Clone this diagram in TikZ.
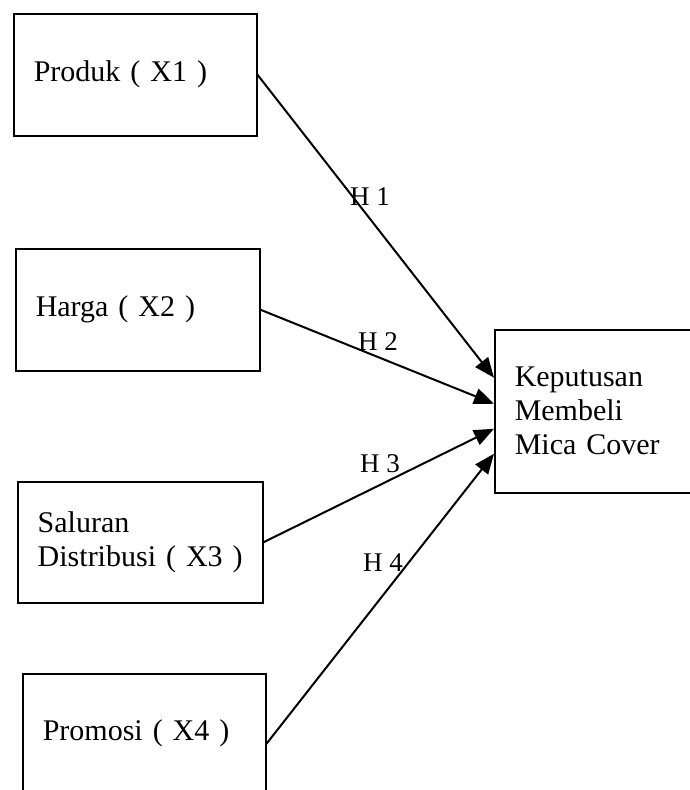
\documentclass[tikz,border=0pt]{standalone}
\usepackage{fontspec}
\setmainfont{Liberation Serif}
\usetikzlibrary{arrows.meta}

\begin{document}
\begin{tikzpicture}[x=1pt,y=-1pt,
    every node/.style={font=\fontsize{30}{34}\selectfont},
    varbox/.style={rectangle,draw,line width=1.5pt,anchor=north west,
      align=left,inner xsep=20pt,minimum height=122pt},
    hyp/.style={font=\fontsize{27}{30}\selectfont,inner sep=0pt},
    link/.style={line width=2pt,-{Triangle[length=20pt,width=16pt]}}]
    \useasboundingbox (0,0) rectangle (689,790);

    % Independent variables
    \node[varbox,text width=203pt] (produk) at (13,13) {Produk ( X1 )};
    \node[varbox,text width=204pt] (harga) at (15,248) {Harga ( X2 )};
    \node[varbox,text width=205pt,minimum height=121pt] (saluran) at (17,481)
      {Saluran\\Distribusi ( X3 )};
    \node[varbox,text width=203pt,minimum height=120pt] (promosi) at (22,673)
      {Promosi ( X4 )};

    % Dependent variable
    \node[varbox,text width=162pt,minimum height=163pt] (keputusan) at (494,329)
      {Keputusan\\Membeli\\Mica Cover};

    % Hypothesis labels
    \node[hyp] (h1) at (370,197) {H 1};
    \node[hyp] (h2) at (378,342) {H 2};
    \node[hyp] (h3) at (380,464) {H 3};
    \node[hyp] (h4) at (383,563) {H 4};

    % Arrows into the decision box
    \foreach \src/\sy/\ty in {produk/0/33.5,harga/0/7.5,saluran/0/-17.5,promosi/-10/-42.5} {
      \draw[link] ([yshift=\sy pt]\src.east) -- ([yshift=\ty pt]keputusan.west);
    }

  \end{tikzpicture}
\end{document}
